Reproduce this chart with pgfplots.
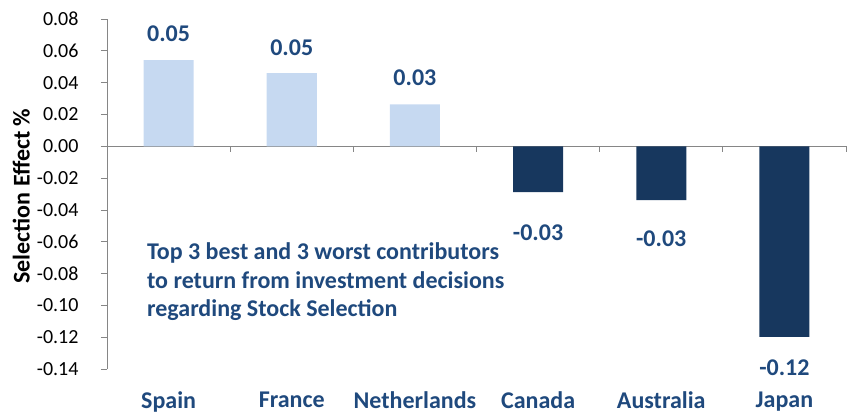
\documentclass[border=0pt]{standalone}
\usepackage{fontspec}
\setmainfont{Carlito}
\usepackage{pgfplots}
\pgfplotsset{compat=1.18}
\definecolor{lightbar}{HTML}{C6D9F1}
\definecolor{darkbar}{HTML}{17375E}
\definecolor{navytxt}{HTML}{1F497D}
\definecolor{axisgray}{HTML}{868686}
\begin{document}
\begin{tikzpicture}
\useasboundingbox (-107bp,-49bp) rectangle (749bp,369bp);
\begin{axis}[
  scale only axis, width=739bp, height=350bp,
  xmin=-0.5, xmax=5.5, ymin=-0.14, ymax=0.08,
  axis y line=left, axis x line=bottom,
  x axis line style={draw=none},
  y axis line style={-, axisgray, line width=0.75pt},
  ytick={-0.14,-0.12,-0.10,-0.08,-0.06,-0.04,-0.02,0,0.02,0.04,0.06,0.08},
  /pgf/number format/assume math mode=true,
  yticklabel style={font=\fontsize{20bp}{23bp}\selectfont, xshift=-19bp, /pgf/number format/fixed, /pgf/number format/fixed zerofill, /pgf/number format/precision=2},
  ytick align=outside, ytick style={axisgray, line width=0.75pt}, major tick length=6bp,
  xtick={0,1,2,3,4,5},
  xticklabels={Spain,France,Netherlands,Canada,Australia,Japan},
  xtick style={draw=none},
  xticklabel style={font=\bfseries\fontsize{24bp}{27bp}\selectfont, text=navytxt, yshift=-16bp},
  extra y ticks={0}, extra y tick labels={},
  extra y tick style={grid=major, major grid style={axisgray, line width=0.75pt}},
  ylabel={Selection Effect \%},
  ylabel style={font=\bfseries\fontsize{24bp}{27bp}\selectfont, at={(axis description cs:-0.116,0.494)}, anchor=center},
  bar width=50bp,
  clip=false,
]
\addplot[ybar, fill=lightbar, draw=none] coordinates {(0,0.0541)(1,0.0459)(2,0.0264)};
\addplot[ybar, fill=darkbar, draw=none] coordinates {(3,-0.0288)(4,-0.0339)(5,-0.1198)};
\addplot[ycomb, axisgray, line width=0.75pt, no marks] coordinates {(0.5,-0.0038)(1.5,-0.0038)(2.5,-0.0038)(3.5,-0.0038)(4.5,-0.0038)(5.5,-0.0038)};
\addplot[draw=none, no marks, nodes near coords, point meta=explicit symbolic,
  nodes near coords style={anchor=center, font=\bfseries\fontsize{24bp}{27bp}\selectfont, text=navytxt}]
  coordinates {(0,0.0706)[0.05] (1,0.0618)[0.05] (2,0.0429)[0.03] (3,-0.0545)[-0.03] (4,-0.0583)[-0.03] (5,-0.1395)[-0.12]};
\node[anchor=west, align=left, inner sep=0pt, font=\bfseries\fontsize{24bp}{28.5bp}\selectfont, text=navytxt]
  at (rel axis cs:0.054,0.249) {Top 3 best and 3 worst contributors\\to return from investment decisions\\regarding Stock Selection};
\end{axis}
\end{tikzpicture}
\end{document}
